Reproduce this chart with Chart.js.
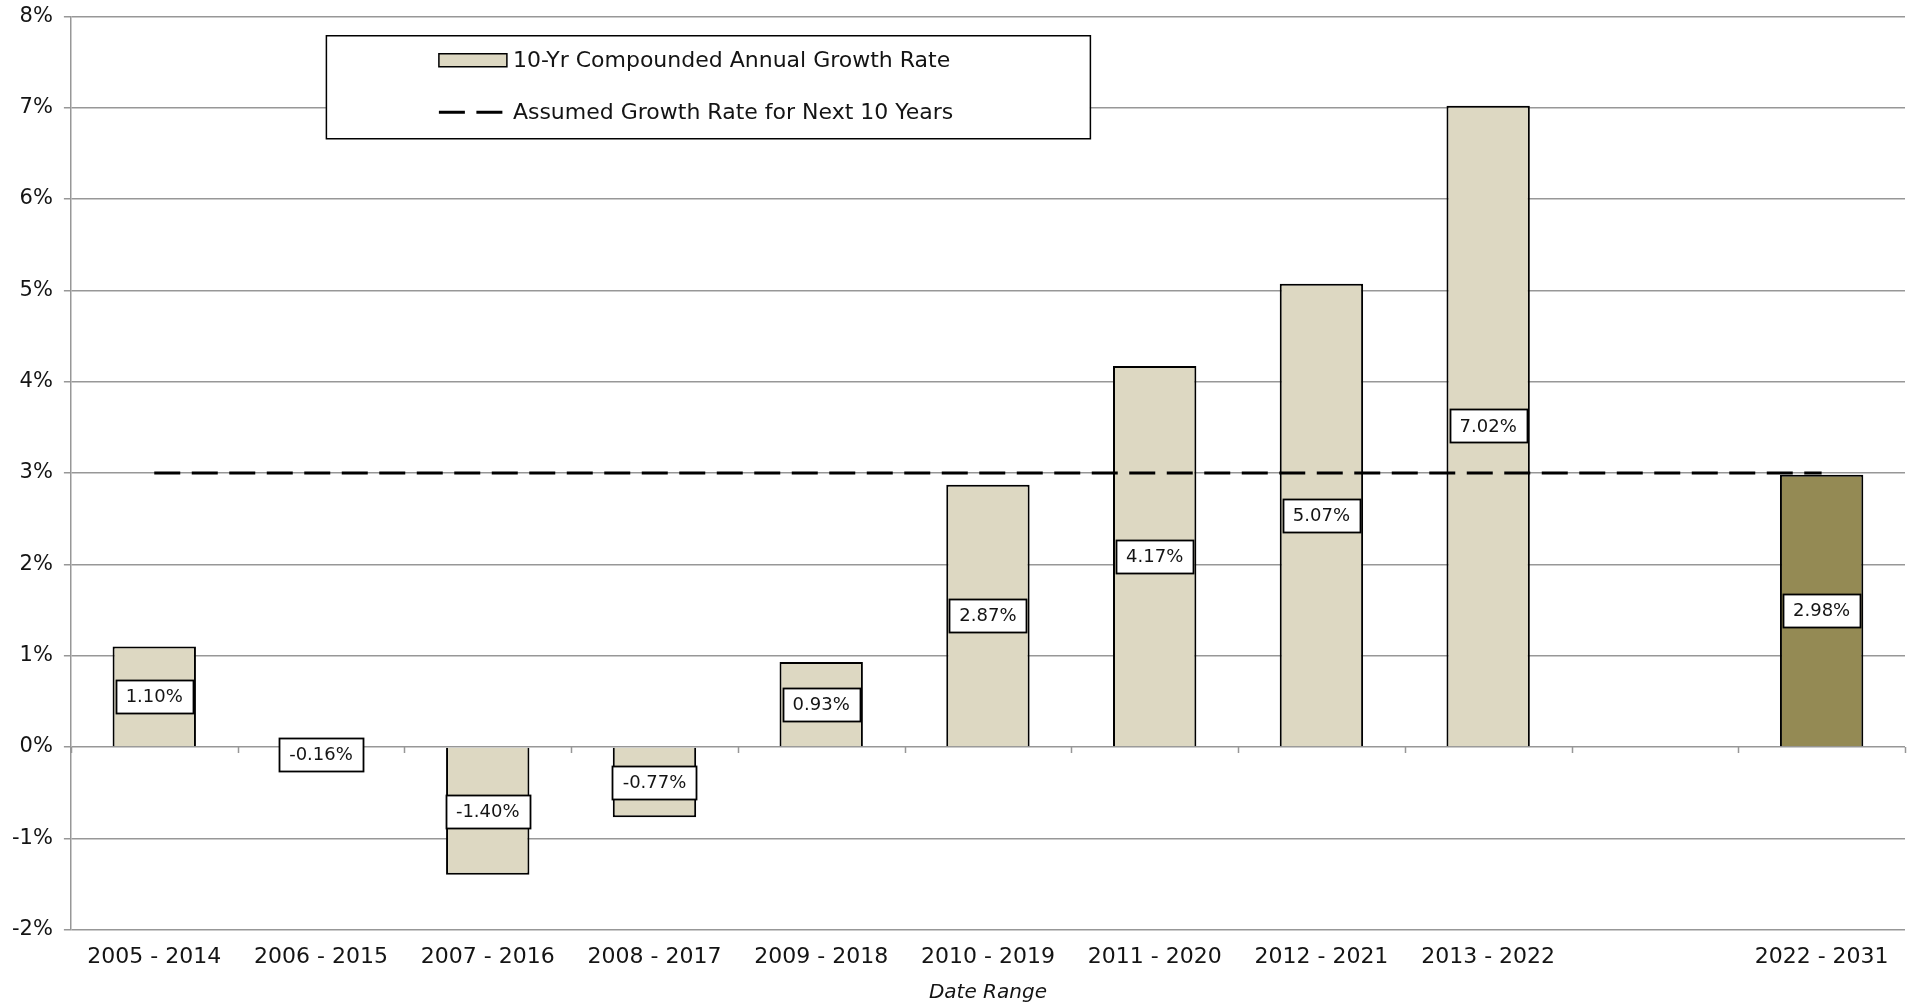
<!DOCTYPE html>
<html>
<head>
<meta charset="utf-8">
<title>10-Year Compounded Annual Growth Rate by Date Range</title>
<script src="https://cdn.jsdelivr.net/npm/chart.js@4.4.1/dist/chart.umd.min.js"></script>
<style>
  html, body { margin: 0; padding: 0; background: #ffffff; }
  canvas { display: block; }
</style>
</head>
<body>
<canvas id="chart" width="1913" height="1003"></canvas>
<script>
// Ten-year windows (one empty slot separates history from the projection)
const categories = [
  '2005 - 2014', '2006 - 2015', '2007 - 2016', '2008 - 2017', '2009 - 2018',
  '2010 - 2019', '2011 - 2020', '2012 - 2021', '2013 - 2022', '', '2022 - 2031'
];

// 10-yr compounded annual growth rate, in percent
const growthRates = [1.10, -0.16, -1.40, -0.77, 0.93, 2.87, 4.17, 5.07, 7.02, null, 2.98];

// Assumed growth rate for the next 10 years, in percent
const assumedRate = [3, 3, 3, 3, 3, 3, 3, 3, 3, 3, 3];

// Y axis ticks, in percent
const yTicks = [-2, -1, 0, 1, 2, 3, 4, 5, 6, 7, 8];

const seriesNames = ['10-Yr Compounded Annual Growth Rate', 'Assumed Growth Rate for Next 10 Years'];
const xAxisTitle = 'Date Range';

const FONT = "'DejaVu Sans', 'Liberation Sans', sans-serif";
const TEXT = '#141414';
const GRID = '#979797';
const TAN = '#ddd8c2';
const OLIVE = '#948a54';
const DASH = [26, 11.5];

// small tick marks along the zero line at each category boundary
const zeroTicks = {
  id: 'zeroTicks',
  beforeDatasetsDraw(chart) {
    const { ctx, scales: { x, y } } = chart;
    const y0 = y.getPixelForValue(0);
    ctx.save();
    ctx.strokeStyle = GRID;
    ctx.lineWidth = 1.5;
    ctx.beginPath();
    for (let i = 0; i <= categories.length; i++) {
      const px = Math.round(x.getPixelForValue(i - 0.5)) + 0.5;
      ctx.moveTo(px, y0);
      ctx.lineTo(px, y0 + 6);
    }
    ctx.stroke();
    ctx.restore();
  }
};

// boxed value labels centred on each bar
const barLabels = {
  id: 'barLabels',
  afterDatasetsDraw(chart) {
    const { ctx } = chart;
    const meta = chart.getDatasetMeta(0);
    const values = chart.data.datasets[0].data;
    ctx.save();
    ctx.font = `18px ${FONT}`;
    ctx.textAlign = 'center';
    ctx.textBaseline = 'middle';
    meta.data.forEach((bar, i) => {
      const v = values[i];
      if (v === null || v === undefined) return;
      const { x, y, base } = bar.getProps(['x', 'y', 'base'], true);
      const cy = (y + base) / 2;
      const text = v.toFixed(2) + '%';
      const w = Math.round(ctx.measureText(text).width + 20);
      const h = 33;
      const bx = Math.round(x - w / 2) + 0.5;
      const by = Math.round(cy - h / 2) + 0.5;
      ctx.fillStyle = '#ffffff';
      ctx.fillRect(bx, by, w, h);
      ctx.strokeStyle = '#000000';
      ctx.lineWidth = 1.8;
      ctx.strokeRect(bx, by, w, h);
      ctx.fillStyle = TEXT;
      ctx.fillText(text, x, cy + 1);
    });
    ctx.restore();
  }
};

// legend box drawn inside the plot area
const boxLegend = {
  id: 'boxLegend',
  afterDraw(chart) {
    const { ctx, chartArea } = chart;
    const left = chartArea.left + 255;
    const top = chartArea.top + 19;
    const width = 764;
    const height = 103;
    const ds = chart.data.datasets;
    ctx.save();
    ctx.fillStyle = '#ffffff';
    ctx.fillRect(left, top, width, height);
    ctx.strokeStyle = '#000000';
    ctx.lineWidth = 1.5;
    ctx.strokeRect(left + 0.5, top + 0.5, width, height);

    const sx = left + 113;
    const sw = 68;
    const row1 = top + 25;
    const row2 = top + 77;

    // bar swatch
    ctx.fillStyle = TAN;
    ctx.fillRect(sx, row1 - 6.5, sw, 13);
    ctx.lineWidth = 1.5;
    ctx.strokeRect(sx, row1 - 6.5, sw, 13);

    // dashed line swatch
    ctx.beginPath();
    ctx.lineWidth = 3;
    ctx.setLineDash(DASH);
    ctx.moveTo(sx, row2);
    ctx.lineTo(sx + 64, row2);
    ctx.stroke();
    ctx.setLineDash([]);

    ctx.fillStyle = TEXT;
    ctx.font = `22px ${FONT}`;
    ctx.textAlign = 'left';
    ctx.textBaseline = 'middle';
    ctx.fillText(ds[0].label, sx + sw + 6, row1 + 1);
    ctx.fillText(ds[1].label, sx + sw + 6, row2 + 1);
    ctx.restore();
  }
};

new Chart(document.getElementById('chart'), {
  data: {
    labels: categories,
    datasets: [
      {
        type: 'bar',
        label: seriesNames[0],
        data: growthRates,
        backgroundColor: (c) => (c.dataIndex === categories.length - 1 ? OLIVE : TAN),
        borderColor: '#000000',
        borderWidth: 2,
        borderSkipped: 'start',
        barPercentage: 0.5,
        categoryPercentage: 1,
        order: 2
      },
      {
        type: 'line',
        label: seriesNames[1],
        data: assumedRate,
        borderColor: '#000000',
        borderWidth: 3,
        borderDash: DASH,
        borderCapStyle: 'butt',
        pointRadius: 0,
        fill: false,
        tension: 0,
        order: 1
      }
    ]
  },
  options: {
    responsive: false,
    animation: false,
    devicePixelRatio: 1,
    layout: { padding: { left: 1, right: 8, top: 2, bottom: 1 } },
    plugins: {
      legend: { display: false },
      tooltip: { enabled: false }
    },
    scales: {
      x: {
        grid: { display: false, drawTicks: false },
        border: { display: false },
        ticks: {
          font: { family: FONT, size: 22 },
          color: TEXT,
          padding: 14,
          maxRotation: 0,
          autoSkip: false
        },
        title: {
          display: true,
          text: xAxisTitle,
          font: { family: FONT, size: 20, style: 'italic', lineHeight: 0.9 },
          color: TEXT,
          padding: { top: 0, bottom: 0 }
        }
      },
      y: {
        min: yTicks[0],
        max: yTicks[yTicks.length - 1],
        afterBuildTicks: (scale) => { scale.ticks = yTicks.map((v) => ({ value: v })); },
        grid: { color: GRID, lineWidth: 1.5, tickLength: 7 },
        border: { color: GRID, width: 1.5 },
        ticks: {
          font: { family: FONT, size: 21, lineHeight: 0.5 },
          color: TEXT,
          padding: 11,
          callback: (v) => v + '%'
        }
      }
    }
  },
  plugins: [zeroTicks, barLabels, boxLegend]
});
</script>
</body>
</html>
